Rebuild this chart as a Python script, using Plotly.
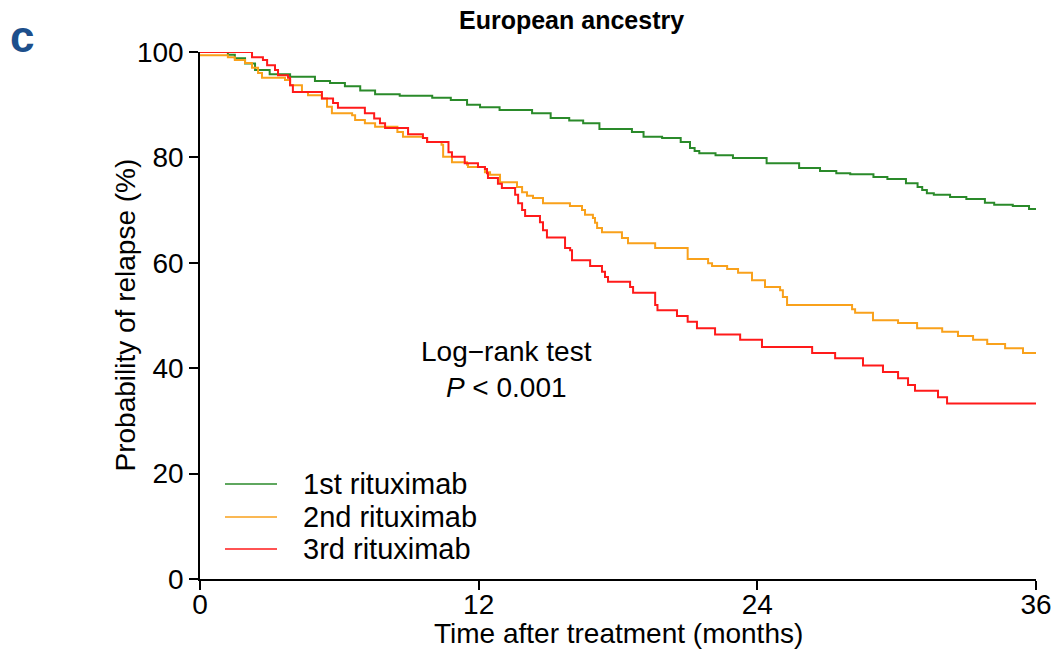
import plotly.graph_objects as go

# ---- data (months, % relapse-free) ----
t1 = [0, 1.2, 1.5, 1.94, 2.37, 3.0, 3.88, 4.95, 5.6, 6.24, 6.9, 7.54, 8.6, 10.0, 10.8, 11.5,
      12.06, 12.9, 14.3, 15.1, 15.9, 16.5, 17.2, 18.6, 19.1, 19.9, 20.7, 21.1, 21.3, 21.5,
      22.2, 22.95, 24.4, 25.8, 26.7, 27.4, 28.0, 29.0, 29.6, 30.4, 30.9, 31.1, 31.3, 31.6,
      32.3, 33.0, 33.8, 34.2, 35.0, 35.7, 36]
s1 = [100, 99.5, 98.8, 97.8, 96.6, 95.8, 95.3, 94.5, 94.1, 93.5, 92.7, 92.0, 91.7, 91.3, 90.9, 90.0,
      89.5, 89.0, 88.4, 87.5, 87.0, 86.5, 85.4, 84.8, 83.9, 83.7, 82.9, 81.8, 81.2, 80.8,
      80.4, 79.9, 78.9, 78.0, 77.4, 77.0, 76.8, 76.3, 75.9, 75.1, 74.4, 73.8, 73.2, 72.9,
      72.5, 72.1, 71.4, 71.0, 70.8, 70.2, 70.2]

t2 = [0, 1.2, 1.5, 1.94, 2.24, 2.5, 2.67, 3.66, 3.88, 4.39, 4.65, 5.25, 5.47, 5.68, 6.55, 6.68,
      7.1, 7.54, 8.5, 8.74, 9.6, 9.78, 10.4, 10.47, 10.85, 11.5, 11.54, 12.27, 12.49, 12.92,
      13.65, 13.87, 14.08, 14.34, 14.77, 15.93, 16.45, 16.58, 16.92, 17.01, 17.1, 17.31, 18.17,
      18.43, 19.6, 21.0, 21.88, 22.05, 22.7, 23.17, 23.77, 24.33, 24.98, 25.1, 25.28, 28.08,
      28.21, 28.98, 30.06, 30.88, 31.96, 32.64, 33.29, 33.9, 34.67, 35.44, 36]
s2 = [99.4, 99.0, 98.5, 97.9, 97.0, 96.0, 95.1, 94.7, 93.7, 92.4, 91.8, 91.2, 89.6, 88.4, 88.0, 87.1,
      86.5, 85.8, 84.8, 83.9, 83.7, 82.9, 82.4, 80.1, 79.1, 78.6, 78.2, 77.2, 76.7, 75.3,
      74.4, 73.4, 72.7, 72.3, 71.3, 70.8, 70.0, 69.1, 68.5, 67.6, 66.6, 65.8, 64.7,
      63.7, 62.8, 60.7, 59.9, 59.4, 58.8, 58.1, 56.7, 55.4, 54.8, 53.5, 52.0, 51.2,
      50.5, 49.1, 48.6, 47.6, 46.9, 46.1, 45.4, 44.6, 43.8, 42.9, 42.9]

t3 = [0, 2.24, 2.71, 2.89, 3.23, 3.36, 3.79, 3.88, 4.0, 5.25, 5.73, 5.94, 7.1, 7.5, 7.75, 7.97,
      8.96, 9.6, 9.78, 10.7, 10.85, 11.4, 11.97, 12.27, 12.36, 12.4, 12.83, 13.0, 13.57, 13.7,
      13.87, 14.0, 14.64, 14.77, 14.94, 15.72, 15.94, 16.02, 16.8, 17.31, 17.44, 17.57, 18.52,
      18.65, 19.6, 19.7, 20.54, 21.0, 21.4, 22.18, 23.26, 24.2, 26.36, 27.35, 28.55, 29.41,
      30.06, 30.49, 30.79, 31.78, 32.17, 36]
s3 = [100, 99.0, 98.5, 97.5, 96.6, 95.6, 95.1, 93.7, 92.4, 91.2, 90.3, 89.4, 88.4, 87.4, 86.5, 85.6,
      84.4, 83.7, 82.9, 81.0, 80.1, 78.9, 78.2, 77.8, 77.0, 76.1, 75.0, 74.2, 72.9, 71.3,
      70.0, 68.9, 67.7, 66.2, 64.8, 62.8, 62.4, 60.5, 59.4, 58.3, 57.3, 56.4, 55.4,
      54.3, 52.0, 51.0, 49.9, 48.8, 47.6, 46.4, 45.4, 44.0, 42.9, 41.9, 40.5, 39.3,
      38.1, 36.8, 35.7, 34.5, 33.3, 33.3]

names = ["1st rituximab", "2nd rituximab", "3rd rituximab"]
colors = ["#2a8a2a", "#f9a11b", "#ff1a1a"]
x_ticks = [0, 12, 24, 36]
y_ticks = [0, 20, 40, 60, 80, 100]

FONT = "Liberation Sans, Arial, Helvetica, sans-serif"
W, H = 1057, 650
L, R, T, B = 200, 21, 52, 71
PW, PH = W - L - R, H - T - B


def px_x(p):
    return (p - L) / PW


def px_y(p):
    return (H - B - p) / PH


fig = go.Figure()
for t, s, n, c in zip([t1, t2, t3], [s1, s2, s3], names, colors):
    fig.add_trace(go.Scatter(x=t, y=s, mode="lines", name=n, line=dict(color=c, width=2, shape="hv"),
                             showlegend=False))

fig.update_layout(
    width=W, height=H,
    margin=dict(l=L, r=R, t=T, b=B, autoexpand=False),
    paper_bgcolor="white", plot_bgcolor="white",
    font=dict(family=FONT, size=28, color="black"),
    showlegend=False,
    xaxis=dict(range=[0, 36], tickvals=x_ticks, showgrid=False, zeroline=False, automargin=False,
               showline=True, linecolor="black", linewidth=1.5, ticks="outside", ticklen=9,
               tickwidth=1.5, tickcolor="black", tickfont=dict(size=28), ticklabelstandoff=-9),
    yaxis=dict(range=[0, 100], tickvals=y_ticks, showgrid=False, zeroline=False, automargin=False,
               showline=True, linecolor="black", linewidth=1.5, ticks="outside", ticklen=9,
               tickwidth=1.5, tickcolor="black", tickfont=dict(size=28)),
)

# axis titles
fig.add_annotation(text="Time after treatment (months)", xref="paper", yref="paper",
                   x=0.5, y=px_y(633), xanchor="center", yanchor="middle",
                   showarrow=False, font=dict(size=28))
fig.add_annotation(text="Probability of relapse (%)", xref="paper", yref="paper",
                   x=px_x(125), y=0.5, xanchor="center", yanchor="middle", textangle=-90,
                   showarrow=False, font=dict(size=28))

# legend drawn as line samples + labels
leg_rows = [484, 517, 549]
for n, c, yy in zip(names, colors, leg_rows):
    fig.add_shape(type="line", xref="paper", yref="paper", x0=px_x(225), x1=px_x(277),
                  y0=px_y(yy), y1=px_y(yy), line=dict(color=c, width=1.5))
    fig.add_annotation(text=n, xref="paper", yref="paper", x=px_x(301), y=px_y(yy),
                       xanchor="left", yanchor="middle", showarrow=False, font=dict(size=29))

fig.add_annotation(text="<b>European ancestry</b>", xref="paper", yref="paper",
                   x=px_x(571), y=px_y(20), xanchor="center", yanchor="middle",
                   showarrow=False, font=dict(size=25))
fig.add_annotation(text="<b>c</b>", xref="paper", yref="paper",
                   x=px_x(8), y=px_y(37), xanchor="left", yanchor="middle",
                   showarrow=False, font=dict(size=44, color="#1d4f8b"))
fig.add_annotation(text="Log\u2212rank test<br><i>P</i> &lt; 0.001", xref="paper", yref="paper",
                   x=px_x(506), y=px_y(369), xanchor="center", yanchor="middle",
                   showarrow=False, font=dict(size=28), align="center")

fig.write_html("out.html")
